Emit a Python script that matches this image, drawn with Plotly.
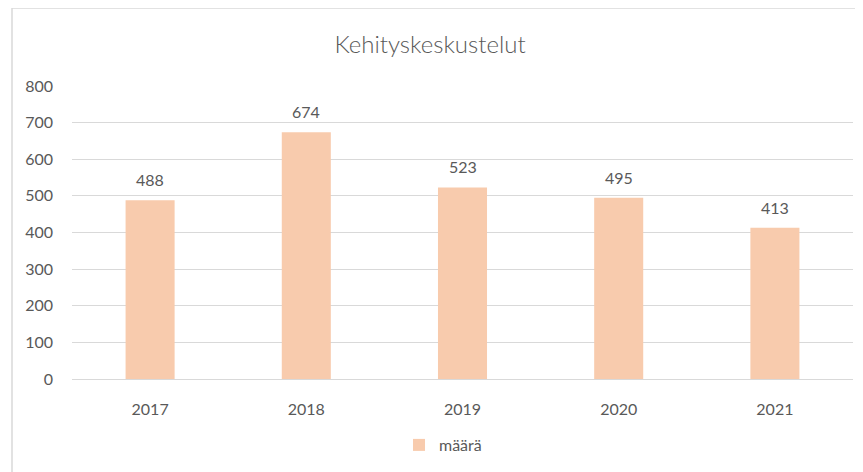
import plotly.graph_objects as go

years = ["2017", "2018", "2019", "2020", "2021"]
counts = [488, 674, 523, 495, 413]
series_name = "määrä"
title_text = "Kehityskeskustelut"

text_col = "#595959"
grid_col = "#D9D9D9"
bar_col = "#F8CBAD"
font_fam = "Lato, 'Open Sans', sans-serif"

# page has an 8px body margin, so the figure is a bit smaller than the window
OFF = 8
W, H = 863 - OFF, 472 - OFF
# plot area (window pixels): x 72..853, y 86..379
L, T = 72 - OFF, 86 - OFF
R = W - (853 - OFF)
B = H - (379 - OFF)
pw = W - L - R
ph = H - T - B

def px_x(p):
    return (p - OFF - L) / pw

def px_y(p):
    return (H - B - (p - OFF)) / ph

fig = go.Figure()
fig.add_trace(go.Bar(
    x=years, y=counts, name=series_name,
    marker=dict(color=bar_col, line=dict(width=0)),
    showlegend=True,
))

# value labels above the bars (x given as category index, strings like "2017"
# would be read as an index on a category axis)
for i, v in enumerate(counts):
    fig.add_annotation(x=i, y=v, text=str(v), showarrow=False,
                       yanchor="bottom", yshift=9,
                       font=dict(size=16, color=text_col, family=font_fam))

fig.update_layout(
    width=W, height=H,
    margin=dict(l=L, r=R, t=T, b=B, autoexpand=False),
    paper_bgcolor="white", plot_bgcolor="white",
    font=dict(family=font_fam, color=text_col, size=16),
    bargap=0.686,
    title=dict(text=title_text, xref="container", x=(430 - OFF) / W, xanchor="center",
               yref="container", y=1 - (45 - OFF) / H, yanchor="middle",
               font=dict(size=24, color=text_col, family=font_fam, weight=300)),
    xaxis=dict(type="category", range=[-0.5, len(years) - 0.5], showgrid=False,
               showline=False, ticks="", tickfont=dict(size=16),
               ticklabelstandoff=19, automargin=False),
    yaxis=dict(range=[0, 800], dtick=100, showgrid=True, gridcolor=grid_col,
               gridwidth=1, zeroline=True, zerolinecolor=grid_col, zerolinewidth=1,
               showline=False, ticks="", tickfont=dict(size=16), ticklabelstandoff=18,
               automargin=False),
    legend=dict(orientation="h", x=px_x(443), xanchor="center",
                y=px_y(445), yanchor="middle", font=dict(size=16),
                itemwidth=30, traceorder="normal"),
    shapes=[dict(type="rect", xref="paper", yref="paper",
                 x0=px_x(12), x1=px_x(890), y0=px_y(500), y1=px_y(8),
                 line=dict(color=grid_col, width=1.5), fillcolor="rgba(0,0,0,0)",
                 layer="below")],
)

fig.write_html("out.html")
